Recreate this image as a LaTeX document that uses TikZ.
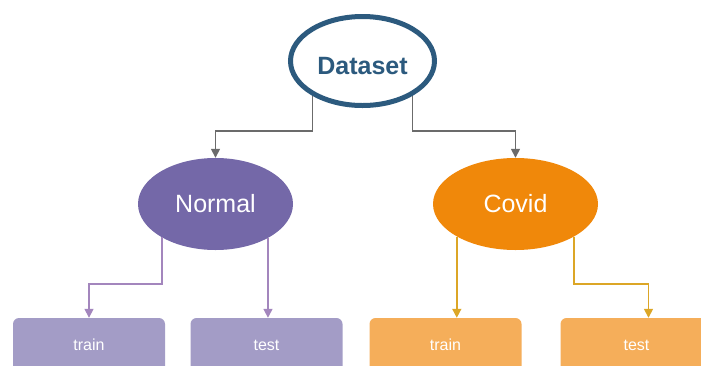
\documentclass[tikz,border=0pt]{standalone}
\usepackage{fontspec}
\setmainfont{Liberation Sans}
\usetikzlibrary{shapes.geometric,arrows.meta}

\begin{document}
\begin{tikzpicture}[x=1pt, y=-1pt,
    topNode/.style={ellipse, draw=dataColour, line width=5pt, fill=white,
        minimum width=144pt, minimum height=89pt, inner sep=0pt,
        text=dataColour, text height=26pt, text depth=0pt,
        font=\fontsize{25}{30}\selectfont\bfseries},
    classNode/.style={ellipse, minimum height=92pt, inner sep=0pt,
        text=white, font=\fontsize{25}{30}\selectfont},
    splitBox/.style={rectangle, rounded corners=6pt, minimum width=152pt,
        minimum height=54pt, inner sep=0pt, text=white,
        font=\fontsize{16}{19}\selectfont},
    link/.style={line width=1.5pt, -{Triangle[length=9pt,width=9pt]}}]

    \definecolor{dataColour}{HTML}{2C5A7E}
    \definecolor{normalColour}{HTML}{7468A8}
    \definecolor{normalBox}{HTML}{A39CC6}
    \definecolor{covidColour}{HTML}{F0880A}
    \definecolor{covidBox}{HTML}{F5AE5A}
    \definecolor{grayLine}{HTML}{6B6B6B}
    \definecolor{purpleLine}{HTML}{A386BD}
    \definecolor{orangeLine}{HTML}{DCA626}

    % Frame
    \useasboundingbox (0,0) rectangle (701,365);
    \clip (0,0) rectangle (701,365);

    % Root and classes
    \node[topNode] (data) at (362.5,61) {Dataset};
    \node[classNode, fill=normalColour, minimum width=155pt] (normal) at (215.5,204) {Normal};
    \node[classNode, fill=covidColour, minimum width=165pt] (covid) at (515.5,204) {Covid};

    % Splits
    \node[splitBox, fill=normalBox] (ntrain) at (89,345) {train};
    \node[splitBox, fill=normalBox] (ntest) at (266.5,345) {test};
    \node[splitBox, fill=covidBox] (ctrain) at (445.5,345) {train};
    \node[splitBox, fill=covidBox] (ctest) at (636.5,345) {test};

    % Connectors
    \draw[link, grayLine] (data.215) |- ([yshift=27pt]normal.north) -- (normal.north);
    \draw[link, grayLine] (data.325) |- ([yshift=27pt]covid.north) -- (covid.north);
    \draw[link, purpleLine] (normal.212) |- ([yshift=34pt]ntrain.north) -- (ntrain.north);
    \draw[link, purpleLine] (normal.327) -- (normal.327 |- ntest.north);
    \draw[link, orangeLine] (covid.209) -- (covid.209 |- ctrain.north);
    \draw[link, orangeLine] (covid.331) |- ([xshift=12pt,yshift=34pt]ctest.north) -- ([xshift=12pt]ctest.north);

\end{tikzpicture}
\end{document}
